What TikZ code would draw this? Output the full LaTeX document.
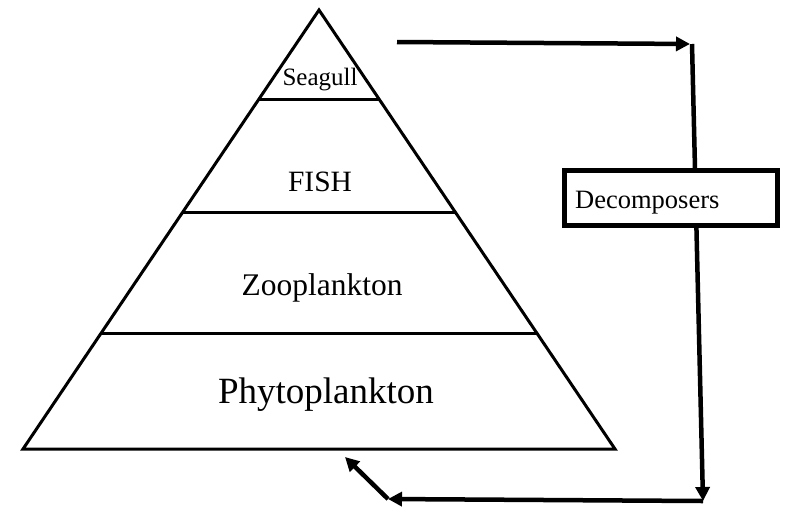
\documentclass[tikz,border=0pt]{standalone}
\usepackage{fontspec}
\setmainfont{Liberation Serif}
\usetikzlibrary{arrows.meta,calc}
\begin{document}
\begin{tikzpicture}[x=1pt,y=-1pt,
  edge/.style={line width=3pt},
  flow/.style={line width=4.5pt,-{Triangle[length=14pt,width=14pt]}},
  box/.style={draw,line width=5pt,fill=white,minimum width=213pt,minimum height=55pt,inner sep=0pt},
  tag/.style={inner sep=0pt}]
\useasboundingbox (0,0) rectangle (786,507);

% pyramid outline
\coordinate (apex) at (319,10);
\coordinate (bl) at (23,449);
\coordinate (br) at (615,449);
\draw[edge,line join=miter] (apex) -- (br) -- (bl) -- cycle;

% trophic level dividers
\draw[edge] ($(apex)!0.203!(bl)$) -- ($(apex)!0.203!(br)$);
\draw[edge] ($(apex)!0.462!(bl)$) -- ($(apex)!0.462!(br)$);
\draw[edge] ($(apex)!0.738!(bl)$) -- ($(apex)!0.738!(br)$);

% level names
\node[tag,font=\fontsize{25}{30}\selectfont] (seagull) at (320,80) {Seagull};
\node[tag,font=\fontsize{29.5}{34}\selectfont] (fish) at (320,182) {FISH};
\node[tag,font=\fontsize{31.5}{37}\selectfont] (zoo) at (322,288) {Zooplankton};
\node[tag,font=\fontsize{37}{44}\selectfont] (phyto) at (326,395) {Phytoplankton};

% nutrient return loop
\coordinate (start) at (397,42);
\coordinate (tr) at (692,44);
\coordinate (rb) at (703,501);
\coordinate (lb) at (388,499);
\coordinate (base) at (345,457);

\draw[flow,shorten >=2pt] (start) -- (tr);
\draw[flow,-{Triangle[length=14pt,width=14pt]}] (tr) -- (rb);
\node[box] (decomp) at (671,198) {};
\node[tag,anchor=west,font=\fontsize{26.5}{32}\selectfont] (decomptext) at (575,203) {Decomposers};
\draw[flow] (rb) -- (lb);
\draw[flow] (lb) -- (base);
\end{tikzpicture}
\end{document}
